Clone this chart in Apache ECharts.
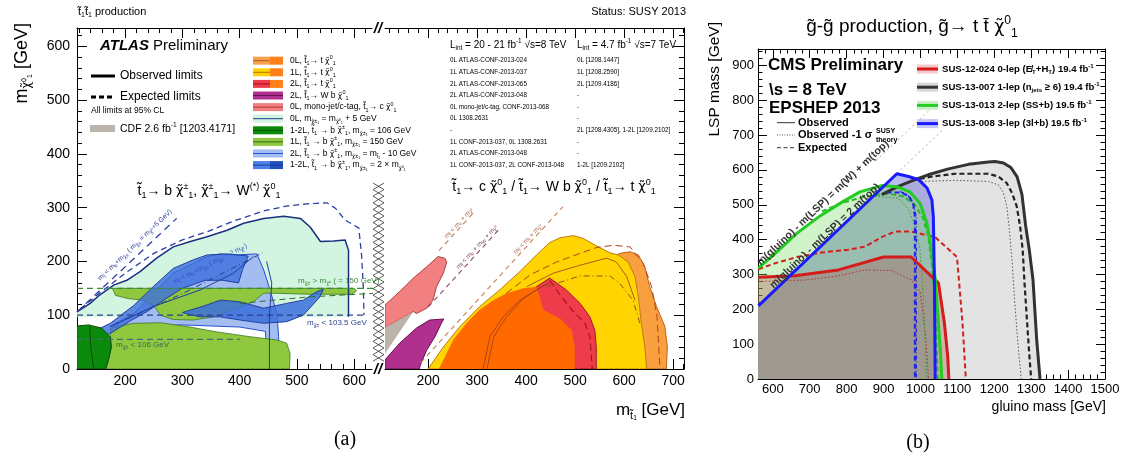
<!DOCTYPE html>
<html>
<head>
<meta charset="utf-8">
<title>Stop and gluino exclusion limits</title>
<script src="https://cdn.jsdelivr.net/npm/echarts@6/dist/echarts.min.js"></script>
<style>html,body{margin:0;padding:0;background:#fff}#chart{width:1127px;height:463px}</style>
</head>
<body>
<div id="chart"></div>
<script>
const FONT = 'Liberation Sans';
function range(a, b, step) { const r = []; for (let v = a; v <= b + 1e-9; v += step) r.push(v); return r; }

// ---------- tick values ----------
const atlasMajorXLeft = [200, 300, 400, 500, 600];
const atlasMinorXLeft = range(120, 620, 20).filter(v => v % 100 !== 0);
const atlasMajorXRight = [200, 300, 400, 500, 600, 700];
const atlasMinorXRight = range(120, 720, 20).filter(v => v % 100 !== 0);
const atlasMajorY = [0, 100, 200, 300, 400, 500, 600];
const atlasMinorY = range(20, 620, 20).filter(v => v % 100 !== 0);
const cmsMajorX = range(600, 1500, 100);
const cmsMinorX = range(580, 1480, 20).filter(v => v % 100 !== 0);
const cmsMajorY = range(0, 900, 100);
const cmsMinorY = range(20, 940, 20).filter(v => v % 100 !== 0);

// ---------- (a) left: stop -> b chargino  [m(stop), m(LSP)] ----------
const compressedObs = [[116,106],[139,122],[156,138],[180,156],[203,165],[226,181],[255,206],[284,227],[314,237],[343,246],[378,258],[407,271],[442,280],[477,284],[506,280],[523,264],[541,237],[564,238],[584,240],[590,221],[590,97]];
const compressedExp = [[122,112],[160,145],[200,178],[250,215],[300,240],[345,256],[392,276],[442,294],[482,303],[517,307],[552,309],[567,299],[584,277],[608,262],[613,209],[616,147],[617,100]];
const kinBChargino5 = [[116,106],[290,280]];
const lepCharginoLimit = [[116,100],[622,100]];
const chargino150Line = [[116,150],[640,150]];
const chargino106Line = [[116,55],[400,55]];
const lightBlue2L = [[174,79],[215,103],[249,141],[284,178],[319,196],[343,209],[366,214],[389,212],[430,214],[442,184],[453,147],[465,103],[468,60],[468,0],[448,0],[445,70],[400,78],[300,82],[220,80]];
const green150Bottom = [[166,0],[171,17],[176,41],[174,60],[174,76],[215,85],[261,86],[308,79],[360,69],[418,60],[465,54],[482,48],[488,29],[487,0]];
const green150Band = [[178,150],[600,150],[604,145],[595,139],[520,139],[455,141],[442,141],[424,125],[389,110],[354,97],[319,91],[284,92],[262,100],[250,118],[230,128],[205,131],[183,137]];
const blue2xUpper = [[116,54],[174,85],[215,118],[249,153],[284,187],[319,203],[343,212],[378,214],[415,210],[405,185],[398,160],[370,165],[340,165],[300,150],[270,130],[240,108],[210,90],[174,66],[116,44]];
const blue2xLower = [[300,105],[340,118],[366,128],[400,125],[442,113],[482,122],[511,128],[535,144],[546,148],[540,134],[511,100],[482,88],[442,85],[401,91],[366,97],[330,97]];
const darkGreen106 = [[116,0],[116,80],[136,82],[159,76],[174,60],[176,41],[171,17],[166,0]];
const blueObsA = [[174,79],[249,116],[331,147],[389,178],[424,209]];
const blueDashDot = [[180,82],[300,140],[440,216]];
const blueObsB = [[452,0],[452,100],[456,160],[447,200]];
const green150Exp = [[400,122],[520,134],[640,141]];
const darkGreenEdge = [[138,82],[140,40],[145,0]];

// ---------- (a) right: stop -> c / Wb / t + LSP ----------
const monojetC = [[112,119],[142,144],[170,169],[197,190],[220,209],[234,206],[238,199],[231,178],[217,153],[210,128],[197,113],[176,103],[170,107],[142,92],[112,77]];
const cdfRegion = [[112,77],[142,92],[170,107],[112,29]];
const wbChi = [[112,0],[112,17],[142,48],[176,76],[203,91],[232,93],[227,85],[214,60],[197,35],[184,7],[182,0]];
const topChi0L = [[560,0],[560,200],[591,215],[612,218],[629,212],[642,190],[652,153],[666,116],[683,79],[688,41],[686,0]];
const topChi1L = [[200,0],[231,41],[265,79],[305,116],[346,147],[387,181],[421,212],[448,235],[469,244],[496,248],[516,243],[543,229],[571,216],[588,212],[608,199],[622,172],[629,134],[635,85],[642,41],[646,0]];
const topChi2L = [[400,0],[400,140],[421,153],[448,169],[482,147],[510,122],[530,97],[540,72],[543,41],[543,0]];
const topChiComb = [[222,0],[251,54],[278,85],[305,110],[333,128],[360,141],[394,150],[421,153],[428,134],[435,110],[469,94],[493,72],[499,41],[499,0]];
const topExp0L = [[360,141],[408,175],[462,199],[510,215],[544,226],[578,230],[612,227],[639,196],[656,153],[667,97],[673,0]];
const topObs1L = [[401,153],[455,178],[510,193],[564,206],[584,199],[605,172],[622,128]];
const topExp1L = [[441,153],[510,173],[571,173],[591,159],[618,128],[632,85]];
const top2LObsA = [[312,0],[326,60],[353,97],[387,128],[421,147],[445,159]];
const top2LObsB = [[320,0],[334,60],[360,97],[393,130],[426,150],[448,161]];
const top2LExp = [[448,165],[472,134],[496,107],[520,85],[530,60],[535,0]];
const kinCharm = [[222,220],[295,293]];
const kinBW = [[200,115],[345,260]];
const kinTop = [[185,12],[475,302]];

// ---------- (b) gluino -> t tbar LSP  [m(gluino), m(LSP)] ----------
const sus13007Obs = [[895,529],[940,553],[985,572],[1021,586],[1076,603],[1130,616],[1184,623],[1202,624],[1225,620],[1245,607],[1262,580],[1275,530],[1285,440],[1295,370],[1305,284],[1315,112],[1324,0]];
const sus13007Exp = [[977,570],[1031,581],[1094,589],[1184,589],[1211,581],[1234,562],[1248,534],[1261,495],[1270,438],[1277,371],[1282,275],[1288,179],[1294,83],[1300,0]];
const sus13007ObsM1 = [[1003,567],[1094,570],[1184,567],[1211,557],[1225,534],[1234,495],[1240,438],[1248,342],[1255,227],[1264,103],[1273,0]];
const sus13008Obs = [[561,210],[936,589],[968,581],[995,572],[1018,548],[1031,514],[1035,466],[1038,275],[1040,0]];
const sus13008Exp = [[908,535],[949,535],[969,524],[980,505],[985,466],[985,0]];
const sus13008ObsM1 = [[945,538],[966,528],[980,505],[989,466],[989,0]];
const sus13013Obs = [[561,318],[611,365],[665,418],[728,468],[782,504],[836,537],[895,555],[936,552],[972,537],[999,504],[1017,450],[1030,370],[1040,288],[1047,189],[1054,83],[1058,0]];
const sus13013Exp = [[733,481],[787,505],[850,524],[913,532],[954,524],[985,500],[1008,461],[1021,409],[1030,342],[1039,227],[1047,0]];
const sus13013ObsM1 = [[877,524],[940,519],[968,486],[985,438],[999,371],[1008,227],[1017,0]];
const sus12024Obs = [[561,292],[660,296],[778,313],[900,350],[975,350],[1049,275],[1065,160],[1074,64],[1077,0]];
const sus12024Exp = [[561,315],[606,332],[669,351],[733,363],[805,371],[850,380],[895,407],[931,423],[976,423],[1040,407],[1099,350],[1105,275],[1114,160],[1123,0]];
const sus12024ObsM1 = [[561,280],[687,284],[778,296],[850,313],[922,311],[976,284],[999,251],[1008,179],[1017,83],[1022,0]];
const diagWTop = [[880,627],[1030,777]];
const diag2Top = [[936,590],[1060,714]];

// ---------- axes ----------
const xAxes = [], yAxes = [];
function addAxes(list, grid, min, max, major, minor, mainPos, farPos, o) {
  const mk = (pos, ticks, len, line, lab) => ({
    type: 'value', gridIndex: grid, min: min, max: max, position: pos,
    axisLine: { show: line, onZero: false, lineStyle: { color: '#000', width: 1 } },
    axisTick: ticks ? { show: true, inside: true, length: len, customValues: ticks, lineStyle: { color: '#000', width: 1 } } : { show: false },
    axisLabel: lab ? Object.assign({ show: true, customValues: major, formatter: v => String(v) }, lab) : { show: false },
    splitLine: { show: false }
  });
  const main = list.length;
  list.push(mk(mainPos, o.main ? major : null, o.big, o.main, o.label));
  if (o.main) list.push(mk(mainPos, minor, o.small, false, null));
  if (o.far) { list.push(mk(farPos, major, o.big, true, null)); list.push(mk(farPos, minor, o.small, false, null)); }
  return main;
}
const atlasLab = m => ({ color: '#000', fontSize: 14, fontFamily: FONT, margin: m });
const cmsLab = m => ({ color: '#000', fontSize: 13, fontFamily: FONT, margin: m });
const xL = addAxes(xAxes, 0, 116, 631, atlasMajorXLeft, atlasMinorXLeft, 'bottom', 'top', { main: true, far: true, big: 10, small: 5, label: atlasLab(5) });
const yL = addAxes(yAxes, 0, 0, 634, atlasMajorY, atlasMinorY, 'left', 'right', { main: true, far: false, big: 10, small: 5, label: atlasLab(7) });
const xR = addAxes(xAxes, 1, 112, 722, atlasMajorXRight, atlasMinorXRight, 'bottom', 'top', { main: true, far: true, big: 10, small: 5, label: atlasLab(5) });
const yR = addAxes(yAxes, 1, 0, 634, atlasMajorY, atlasMinorY, 'left', 'right', { main: false, far: true, big: 10, small: 5, label: null });
const xC = addAxes(xAxes, 2, 560, 1500, cmsMajorX, cmsMinorX, 'bottom', 'top', { main: true, far: true, big: 9, small: 4.5, label: cmsLab(4) });
const yC = addAxes(yAxes, 2, 0, 947, cmsMajorY, cmsMinorY, 'left', 'right', { main: true, far: true, big: 9, small: 4.5, label: cmsLab(4) });

// ---------- series helpers ----------
function fillS(pts, xi, yi, fill, stroke, lw, z) {
  return {
    type: 'custom', xAxisIndex: xi, yAxisIndex: yi, z: z, clip: true, silent: true, data: pts,
    renderItem: function (params, api) {
      if (params.dataIndex !== 0) return null;
      return { type: 'polygon', shape: { points: pts.map(p => api.coord(p)) },
        style: { fill: fill, stroke: stroke || null, lineWidth: lw || 0 } };
    }
  };
}
function lineS(pts, xi, yi, color, width, dash, z) {
  return {
    type: 'line', xAxisIndex: xi, yAxisIndex: yi, z: z || 10, data: pts, symbol: 'none', showSymbol: false,
    silent: true, lineStyle: { color: color, width: width, type: dash || 'solid' }
  };
}

const series = [
  // (a) left panel
  fillS([[116,97]].concat(compressedObs), xL, yL, '#d2f4e0', null, 0, 1),
  fillS(lightBlue2L, xL, yL, '#a3bcf2', '#2a4fd0', 1, 2),
  fillS(green150Bottom, xL, yL, '#8fc73e', '#3a7a20', 0.8, 3),
  fillS(green150Band, xL, yL, '#8fc73e', '#3a7a20', 0.8, 4),
  fillS(blue2xUpper, xL, yL, 'rgba(60,110,220,0.8)', '#1f3fa0', 1, 5),
  fillS(blue2xLower, xL, yL, 'rgba(60,110,220,0.85)', '#1f3fa0', 1, 5),
  fillS(darkGreen106, xL, yL, '#0a8a0a', '#064f06', 1, 6),
  lineS(compressedObs, xL, yL, '#1a2f7f', 1.5, 'solid', 8),
  lineS(compressedExp, xL, yL, '#2a3f9f', 1.3, [6, 4], 8),
  lineS(kinBChargino5, xL, yL, '#2a3f9f', 1.3, [7, 5], 8),
  lineS(lepCharginoLimit, xL, yL, '#2a3f8f', 1.2, [6, 4], 8),
  lineS(chargino150Line, xL, yL, '#3a8a3a', 1.2, [6, 4], 8),
  lineS(chargino106Line, xL, yL, '#4a6a7a', 1.2, [6, 4], 8),
  lineS(blueObsA, xL, yL, '#1f3fa0', 1, 'solid', 8),
  lineS(blueDashDot, xL, yL, '#1f3fa0', 1, [6, 3, 1, 3], 8),
  lineS(blueObsB, xL, yL, '#1f3fa0', 1, 'solid', 8),
  lineS(green150Exp, xL, yL, '#2f6f1f', 1, [6, 4], 8),
  lineS(darkGreenEdge, xL, yL, '#064f06', 1, 'solid', 8),
  // (a) right panel
  fillS(monojetC, xR, yR, '#f28080', '#b04040', 1, 2),
  fillS(cdfRegion, xR, yR, '#bcb4aa', null, 0, 3),
  fillS(wbChi, xR, yR, '#b03090', '#6a1050', 1, 2),
  fillS(topChi0L, xR, yR, '#f8a040', '#c06010', 1, 2),
  fillS(topChi1L, xR, yR, '#ffd400', '#c07a10', 1, 3),
  fillS(topChi2L, xR, yR, '#ef3c4a', '#a01828', 1, 4),
  fillS(topChiComb, xR, yR, '#ff6a00', null, 0, 5),
  lineS(topExp0L, xR, yR, '#b04020', 1, [7, 4], 8),
  lineS(topObs1L, xR, yR, '#a0501a', 0.9, 'solid', 8),
  lineS(topExp1L, xR, yR, '#905020', 1, [6, 3, 1, 3], 8),
  lineS(top2LObsA, xR, yR, '#9a3a20', 0.8, 'solid', 8),
  lineS(top2LObsB, xR, yR, '#9a3a20', 0.8, 'solid', 8),
  lineS(top2LExp, xR, yR, '#a01020', 1.1, [7, 4], 8),
  lineS(kinCharm, xR, yR, '#c08060', 1.1, [5, 4], 8),
  lineS(kinBW, xR, yR, '#8a4a6a', 1.1, [5, 4], 8),
  lineS(kinTop, xR, yR, '#c88050', 1.1, [5, 4], 8),
  // (b) CMS panel
  fillS([[560,0],[560,214],[880,534]].concat(sus13007Obs), xC, yC, '#e3e3e3', null, 0, 1),
  fillS([[560,0],[560,209]].concat(sus13008Obs), xC, yC, 'rgba(90,90,210,0.40)', null, 0, 2),
  fillS([[560,0],[560,317]].concat(sus13013Obs), xC, yC, 'rgba(120,220,100,0.35)', null, 0, 3),
  fillS([[560,0],[560,292]].concat(sus12024Obs), xC, yC, 'rgba(170,90,80,0.35)', null, 0, 4),
  lineS(diagWTop, xC, yC, '#aaaaaa', 1, [2, 3], 6),
  lineS(diag2Top, xC, yC, '#aaaaaa', 1, [2, 3], 6),
  lineS(sus13007ObsM1, xC, yC, '#555555', 1, [1.5, 2], 9),
  lineS(sus13007Exp, xC, yC, '#222222', 2.2, [5, 3], 9),
  lineS(sus13007Obs, xC, yC, '#333333', 3, 'solid', 10),
  lineS(sus12024ObsM1, xC, yC, '#b03030', 1, [1.5, 2], 9),
  lineS(sus12024Exp, xC, yC, '#d02020', 2, [5, 3], 9),
  lineS(sus12024Obs, xC, yC, '#d41c1c', 3, 'solid', 10),
  lineS(sus13013ObsM1, xC, yC, '#30a030', 1, [1.5, 2], 9),
  lineS(sus13013Exp, xC, yC, '#22bb22', 2, [5, 3], 9),
  lineS(sus13013Obs, xC, yC, '#22cc22', 3, 'solid', 10),
  lineS(sus13008ObsM1, xC, yC, '#2020e0', 1.2, [4, 2, 1, 2], 9),
  lineS(sus13008Exp, xC, yC, '#2020ee', 2, [5, 3], 9),
  lineS(sus13008Obs, xC, yC, '#1a1aff', 3, 'solid', 10)
];

// ---------- text helpers (^{..} superscript, _{..} subscript) ----------
// chi-tilde clusters get their own token so the combining tilde sits on the chi
const CHI = 'χ̃';
function parseRich(s) {
  let out = '', buf = '', i = 0;
  const emit = (kind, content) => {
    const parts = content.split(CHI);
    parts.forEach((p, k) => {
      if (p) out += '{' + kind + '|' + p + '}';
      if (k < parts.length - 1) out += '{' + kind + 'c|' + CHI + '}';
    });
  };
  const flush = () => { if (buf) { emit('n', buf); buf = ''; } };
  while (i < s.length) {
    const c = s[i];
    if ((c === '^' || c === '_') && s[i + 1] === '{') {
      flush();
      const j = s.indexOf('}', i + 2);
      emit(c === '^' ? 'p' : 'b', s.slice(i + 2, j));
      i = j + 1;
    } else { buf += c; i++; }
  }
  flush();
  return out;
}
function richSet(fs, color, weight, fstyle, family) {
  const base = { fontFamily: family, fontWeight: weight, fontStyle: fstyle, fill: color, color: color };
  const small = Math.max(5, Math.round(fs * 0.64 * 10) / 10);
  const n = Object.assign({}, base, { fontSize: fs, lineHeight: Math.round(fs * 1.3), verticalAlign: 'middle' });
  const p = Object.assign({}, base, { fontSize: small, lineHeight: small, verticalAlign: 'top' });
  const b = Object.assign({}, base, { fontSize: small, lineHeight: small, verticalAlign: 'bottom' });
  const dj = { fontFamily: 'DejaVu Sans', fontStyle: 'normal' };
  return {
    n: n, p: p, b: b,
    nc: Object.assign({}, n, dj, { fontSize: fs * 0.92 }),
    pc: Object.assign({}, p, dj),
    bc: Object.assign({}, b, dj)
  };
}
function T(x, y, s, o) {
  o = o || {};
  const fs = o.size || 10, color = o.color || '#000', fam = o.family || FONT;
  return {
    type: 'text', x: x, y: y, rotation: (o.rot || 0) * Math.PI / 180, z: 100, silent: true,
    style: {
      text: parseRich(s), rich: richSet(fs, color, o.weight || 'normal', o.italic ? 'italic' : 'normal', fam),
      fill: color, fontSize: fs, fontFamily: fam, align: o.align || 'left', verticalAlign: o.va || 'middle'
    }
  };
}
function R(x, y, w, h, fill) { return { type: 'rect', z: 100, silent: true, shape: { x: x, y: y, width: w, height: h }, style: { fill: fill } }; }
function Ln(x1, y1, x2, y2, stroke, lw, dash) {
  return { type: 'line', z: 101, silent: true, shape: { x1: x1, y1: y1, x2: x2, y2: y2 }, style: { stroke: stroke, lineWidth: lw, lineDash: dash || null } };
}

const G = [];
// ----- panel (a) -----
G.push(T(78, 12, 't̃_{1}t̃_{1} production', { size: 11 }));
G.push(T(686, 12, 'Status: SUSY 2013', { size: 11, align: 'right' }));
G.push(T(22, 23, 'm_{χ̃⁰₁} [GeV]', { size: 18, rot: 90, align: 'right' }));
G.push(T(685, 410, 'm_{t̃₁} [GeV]', { size: 17, align: 'right' }));
G.push(T(100, 46, 'ATLAS', { size: 15, weight: 'bold', italic: true }));
G.push(T(153, 46, 'Preliminary', { size: 15 }));
G.push(Ln(91, 76, 115, 76, '#000', 3));
G.push(T(120, 76, 'Observed limits', { size: 12 }));
G.push(Ln(91, 97, 115, 97, '#000', 3, [5, 3]));
G.push(T(120, 97, 'Expected limits', { size: 12 }));
G.push(T(91, 111, 'All limits at 95% CL', { size: 8.5 }));
G.push(R(90, 125, 25, 7, '#bcb4aa'));
G.push(T(120, 129, 'CDF 2.6 fb^{-1} [1203.4171]', { size: 10.5 }));

const atlasLegend = [
  ['0L, t̃_{1}→ t χ̃^{0}_{1}', '#f6a24a', '#ff7f1a', '#b05a20', 'half', '0L ATLAS-CONF-2013-024', '0L [1208.1447]'],
  ['1L, t̃_{1}→ t χ̃^{0}_{1}', '#ffd400', '#ff7f1a', '#c07000', 'half', '1L ATLAS-CONF-2013-037', '1L [1208.2590]'],
  ['2L, t̃_{1}→ t χ̃^{0}_{1}', '#ef3c4a', '#ff7f1a', '#a01020', 'half', '2L ATLAS-CONF-2013-065', '2L [1209.4186]'],
  ['2L, t̃_{1}→ W b χ̃^{0}_{1}', '#b03090', '#b03090', '#6a1050', 'full', '2L ATLAS-CONF-2013-048', '-'],
  ['0L, mono-jet/c-tag, t̃_{1}→ c χ̃^{0}_{1}', '#f28080', '#f28080', '#b03030', 'full', '0L mono-jet/c-tag, CONF-2013-068', '-'],
  ['0L, m_{χ̃±₁} = m_{χ̃⁰₁} + 5 GeV', '#d2f4e0', '#d2f4e0', '#1f3f8f', 'full', '0L 1308.2631', '-'],
  ['1-2L, t̃_{1} → b χ̃^{±}_{1}, m_{χ̃±₁} = 106 GeV', '#0a8a0a', '#0a8a0a', '#055005', 'full', '-', '2L [1208.4305], 1-2L [1209.2102]'],
  ['1L, t̃_{1} → b χ̃^{±}_{1}, m_{χ̃±₁} = 150 GeV', '#8fc73e', '#8fc73e', '#2f6f1f', 'full', '1L CONF-2013-037, 0L 1308.2631', '-'],
  ['2L, t̃_{1} → b χ̃^{±}_{1}, m_{χ̃±₁} = m_{t̃₁} - 10 GeV', '#a3bcf2', '#a3bcf2', '#2a4fd0', 'full', '2L ATLAS-CONF-2013-048', '-'],
  ['1-2L, t̃_{1} → b χ̃^{±}_{1}, m_{χ̃±₁} = 2 × m_{χ̃⁰₁}', '#4d7fe6', '#1f4fc0', '#1a3a9a', 'full', '1L CONF-2013-037, 2L CONF-2013-048', '1-2L [1209.2102]']
];
G.push(T(450, 45, 'L_{int} = 20 - 21 fb^{-1} √s=8 TeV', { size: 10 }));
G.push(T(577, 45, 'L_{int} = 4.7 fb^{-1} √s=7 TeV', { size: 10 }));
atlasLegend.forEach((row, i) => {
  const y = 60.7 + i * 11.6;
  G.push(R(253, y - 4, 17, 8, row[1]));
  G.push(R(270, y - 4, 13, 8, row[2]));
  G.push(Ln(253, y, row[4] === 'half' ? 270 : 283, y, row[3], 1));
  G.push(T(290, y, row[0], { size: 8.5 }));
  G.push(T(450, y, row[5], { size: 6.3 }));
  G.push(T(577, y, row[6], { size: 6.3 }));
});

G.push(T(209, 191, 't̃_{1}→ b χ̃^{±}_{1}, χ̃^{±}_{1}→ W^{(*)} χ̃^{0}_{1}', { size: 14, align: 'center' }));
G.push(T(554, 187, 't̃_{1}→ c χ̃^{0}_{1} / t̃_{1}→ W b χ̃^{0}_{1} / t̃_{1}→ t χ̃^{0}_{1}', { size: 14, align: 'center' }));
G.push(T(307, 323, 'm_{χ̃±} < 103.5 GeV', { size: 8, color: '#2a3f8f' }));
G.push(T(298, 281, 'm_{χ̃±} > m_{χ̃⁰} ( = 150 GeV)', { size: 8, color: '#3a8a3a' }));
G.push(T(116, 345, 'm_{χ̃±} < 106 GeV', { size: 8, color: '#2f6f4f' }));
G.push(T(135, 245, 'm_{t̃} < m_{b}+m_{χ̃±} ( m_{χ̃±} = m_{χ̃⁰}+5 GeV)', { size: 6.8, color: '#2a3f9f', rot: 43.7, align: 'center' }));
G.push(T(210, 264, 'm_{t̃} < m_{b}+m_{χ̃±} ( m_{χ̃±} = 2 m_{χ̃⁰})', { size: 6.8, color: '#3050c0', rot: 26.6, align: 'center' }));
G.push(T(459, 223, 'm_{t̃} < m_{c} + m_{χ̃⁰}', { size: 6.5, color: '#b06a50', rot: 47, align: 'center' }));
G.push(T(477, 247, 'm_{t̃} < m_{b} + m_{W} + m_{χ̃⁰}', { size: 6.5, color: '#8a4a6a', rot: 47, align: 'center' }));
G.push(T(528, 239, 'm_{t̃} < m_{t} + m_{χ̃⁰}', { size: 6.5, color: '#b06a50', rot: 47, align: 'center' }));

// axis break between the two stop panels
const hatchA = [], hatchB = [];
for (let k = 0, y = 183; y <= 362; k++, y += 6.6) {
  hatchA.push([k % 2 ? 384 : 373, y]);
  hatchB.push([k % 2 ? 373 : 384, y]);
}
G.push({ type: 'polyline', z: 100, silent: true, shape: { points: hatchA }, style: { stroke: '#333', lineWidth: 0.8, fill: null } });
G.push({ type: 'polyline', z: 100, silent: true, shape: { points: hatchB }, style: { stroke: '#333', lineWidth: 0.8, fill: null } });
G.push(T(378, 29, '//', { size: 15, weight: 'bold', italic: true, align: 'center' }));
G.push(T(378, 370, '//', { size: 15, weight: 'bold', italic: true, align: 'center' }));
G.push(T(345, 440, '(a)', { size: 20, family: 'Liberation Serif', align: 'center' }));

// ----- panel (b) -----
G.push(T(912, 27, 'g̃-g̃ production, g̃→ t t̄ χ̃^{0}_{1}', { size: 19, align: 'center' }));
G.push(T(715, 22, 'LSP mass [GeV]', { size: 15.5, rot: 90, align: 'right' }));
G.push(T(1106, 407, 'gluino mass [GeV]', { size: 14, align: 'right' }));
G.push(T(768, 65, 'CMS Preliminary', { size: 17, weight: 'bold' }));
G.push(T(769, 90, '\\s = 8 TeV', { size: 17, weight: 'bold' }));
G.push(T(769, 108, 'EPSHEP 2013', { size: 17, weight: 'bold' }));
G.push(Ln(777, 122.7, 795, 122.7, '#333', 1));
G.push(T(798, 122.7, 'Observed', { size: 11, weight: 'bold' }));
G.push(Ln(777, 135, 795, 135, '#555', 1, [1, 1.5]));
G.push(T(798, 135, 'Observed -1 σ', { size: 11, weight: 'bold' }));
G.push(T(876, 131, 'SUSY', { size: 7, weight: 'bold' }));
G.push(T(876, 140, 'theory', { size: 7, weight: 'bold' }));
G.push(Ln(777, 147.7, 795, 147.7, '#333', 1, [4, 2.5]));
G.push(T(798, 147.7, 'Expected', { size: 11, weight: 'bold' }));

const cmsLegend = [
  ['SUS-12-024 0-lep (E̸_{T}+H_{T}) 19.4 fb^{-1}', '#d41c1c', '#f6c8c8'],
  ['SUS-13-007 1-lep (n_{jets} ≥ 6) 19.4 fb^{-1}', '#333333', '#d8d8d8'],
  ['SUS-13-013 2-lep (SS+b) 19.5 fb^{-1}', '#22cc22', '#c8f0c8'],
  ['SUS-13-008 3-lep (3l+b) 19.5 fb^{-1}', '#1a1aff', '#c8c8f4']
];
cmsLegend.forEach((row, i) => {
  const y = 69 + i * 18.2;
  G.push(R(917, y - 4.5, 21, 9, row[2]));
  G.push(Ln(917, y, 938, y, row[1], 3));
  G.push(T(942, y, row[0], { size: 9.6, weight: 'bold' }));
});
G.push(T(823, 203, 'm(gluino) - m(LSP) = m(W) + m(top)', { size: 10.5, weight: 'bold', color: '#333', rot: 43.4, align: 'center' }));
G.push(T(825, 236, 'm(gluino) - m(LSP) = 2 m(top)', { size: 10.5, weight: 'bold', color: '#333', rot: 43.4, align: 'center' }));
G.push(T(918, 443, '(b)', { size: 20, family: 'Liberation Serif', align: 'center' }));

const chart = echarts.init(document.getElementById('chart'), null, { renderer: 'canvas' });
chart.setOption({
  animation: false,
  backgroundColor: '#fff',
  grid: [
    { left: 77, top: 28, width: 295, height: 341 },
    { left: 385, top: 28, width: 299, height: 341 },
    { left: 758, top: 49, width: 347, height: 330 }
  ],
  xAxis: xAxes,
  yAxis: yAxes,
  series: series,
  graphic: { elements: G }
});
</script>
</body>
</html>
